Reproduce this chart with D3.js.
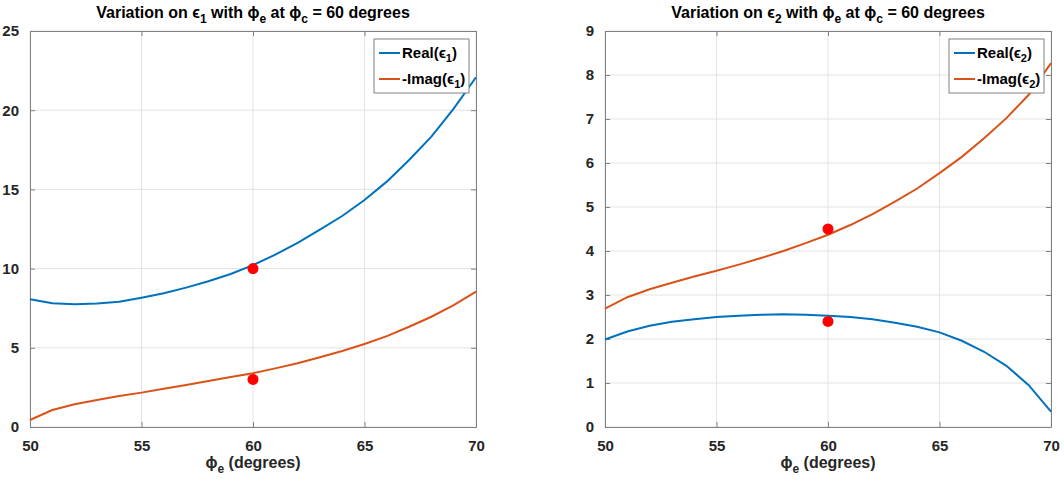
<!DOCTYPE html>
<html>
<head>
<meta charset="utf-8">
<script src="https://cdn.jsdelivr.net/npm/d3@7"></script>
<style>
  body { margin: 0; background: #fff; }
  svg { font-family: 'Liberation Sans', Arial, sans-serif; font-weight: bold; }
  .tick text { fill: #262626; }
</style>
</head>
<body>
<svg id="chart" width="1064" height="482"></svg>
<script>
// phi_e values (degrees)
var phiE = [50, 51, 52, 53, 54, 55, 56, 57, 58, 59, 60, 61, 62, 63, 64, 65, 66, 67, 68, 69, 70]

// epsilon 1
var realEps1 = [8.06, 7.81, 7.75, 7.79, 7.91, 8.16, 8.44, 8.80, 9.20, 9.66, 10.22, 10.88, 11.62, 12.46, 13.32, 14.33, 15.49, 16.86, 18.33, 20.10, 22.08]
var imagEps1 = [0.44, 1.07, 1.43, 1.70, 1.96, 2.17, 2.42, 2.65, 2.90, 3.16, 3.40, 3.70, 4.02, 4.40, 4.80, 5.24, 5.74, 6.33, 6.96, 7.70, 8.54]
var refEps1 = [[60, 10], [60, 3]]

// epsilon 2
var realEps2 = [1.99, 2.17, 2.30, 2.39, 2.45, 2.50, 2.53, 2.55, 2.56, 2.55, 2.53, 2.50, 2.45, 2.37, 2.28, 2.15, 1.96, 1.71, 1.39, 0.95, 0.35]
var imagEps2 = [2.69, 2.95, 3.13, 3.28, 3.42, 3.55, 3.69, 3.84, 4.00, 4.18, 4.37, 4.59, 4.84, 5.12, 5.42, 5.77, 6.14, 6.56, 7.02, 7.55, 8.27]
var refEps2 = [[60, 4.5], [60, 2.4]]

var xTicks = [50, 55, 60, 65, 70]
var yTicks1 = [0, 5, 10, 15, 20, 25]
var yTicks2 = [0, 1, 2, 3, 4, 5, 6, 7, 8, 9]

var blue = '#0072BD', orange = '#D95319'
var svg = d3.select('#chart')

function drawPanel (p) {
    var x = d3.scaleLinear().domain([50, 70]).range([p.left, p.right])
    var y = d3.scaleLinear().domain(p.yDomain).range([p.bottom, p.top])
    var g = svg.append('g')

    // grid
    g.append('g').selectAll('line').data(xTicks).enter().append('line')
        .attr('x1', d => x(d)).attr('x2', d => x(d))
        .attr('y1', p.top).attr('y2', p.bottom)
        .attr('stroke', '#e3e3e3').attr('stroke-width', 1)
    g.append('g').selectAll('line').data(p.yTicks).enter().append('line')
        .attr('y1', d => y(d)).attr('y2', d => y(d))
        .attr('x1', p.left).attr('x2', p.right)
        .attr('stroke', '#e3e3e3').attr('stroke-width', 1)

    // axes (ticks inside, box on)
    var axB = g.append('g').attr('transform', `translate(0, ${p.bottom})`)
        .call(d3.axisBottom(x).tickValues(xTicks).tickSizeInner(-5).tickSizeOuter(0).tickPadding(13))
    var axT = g.append('g').attr('transform', `translate(0, ${p.top})`)
        .call(d3.axisTop(x).tickValues(xTicks).tickSizeInner(-5).tickSizeOuter(0).tickFormat(''))
    var axL = g.append('g').attr('transform', `translate(${p.left}, 0)`)
        .call(d3.axisLeft(y).tickValues(p.yTicks).tickSizeInner(-5).tickSizeOuter(0).tickPadding(11))
    var axR = g.append('g').attr('transform', `translate(${p.right}, 0)`)
        .call(d3.axisRight(y).tickValues(p.yTicks).tickSizeInner(-5).tickSizeOuter(0).tickFormat(''))
    ;[axB, axT, axL, axR].forEach(a => {
        a.select('.domain').attr('stroke', '#808080')
        a.selectAll('.tick line').attr('stroke', '#808080')
        a.selectAll('.tick text').attr('font-size', 15).attr('font-weight', 'bold')
            .attr('font-family', "'Liberation Sans', Arial, sans-serif")
    })

    // curves
    var line = d3.line().x((d, i) => x(phiE[i])).y(d => y(d))
    g.append('path').datum(p.real).attr('d', line)
        .attr('fill', 'none').attr('stroke', blue).attr('stroke-width', 2)
    g.append('path').datum(p.imag).attr('d', line)
        .attr('fill', 'none').attr('stroke', orange).attr('stroke-width', 2)

    // reference points
    g.selectAll('circle.ref').data(p.refs).enter().append('circle')
        .attr('cx', d => x(d[0])).attr('cy', d => y(d[1])).attr('r', 5.5)
        .attr('fill', '#ff0000')

    // title
    var cx = (p.left + p.right) / 2
    var t = g.append('text').attr('x', cx).attr('y', 18)
        .attr('text-anchor', 'middle').attr('font-size', 16).attr('fill', '#000')
    t.append('tspan').text('Variation on ϵ')
    t.append('tspan').attr('dy', 5).attr('font-size', 12).text(p.sub)
    t.append('tspan').attr('dy', -5).text(' with ϕ')
    t.append('tspan').attr('dy', 5).attr('font-size', 12).text('e')
    t.append('tspan').attr('dy', -5).text(' at ϕ')
    t.append('tspan').attr('dy', 5).attr('font-size', 12).text('c')
    t.append('tspan').attr('dy', -5).text(' = 60 degrees')

    // x label
    var xl = g.append('text').attr('x', cx).attr('y', 468)
        .attr('text-anchor', 'middle').attr('font-size', 16).attr('fill', '#262626')
    xl.append('tspan').text('ϕ')
    xl.append('tspan').attr('dy', 5).attr('font-size', 12).text('e')
    xl.append('tspan').attr('dy', -5).text(' (degrees)')

    // legend
    var lx = p.right - 102, ly = 39, lw = 95, lh = 54
    var lg = g.append('g')
    lg.append('rect').attr('x', lx).attr('y', ly).attr('width', lw).attr('height', lh)
        .attr('fill', '#fff').attr('stroke', '#808080').attr('stroke-width', 1)
    var entries = [{ name: 'Real(', color: blue }, { name: '-Imag(', color: orange }]
    entries.forEach((e, i) => {
        var yy = ly + 14 + i * 26
        lg.append('line').attr('x1', lx + 5).attr('x2', lx + 26)
            .attr('y1', yy).attr('y2', yy).attr('stroke', e.color).attr('stroke-width', 2)
        var tx = lg.append('text').attr('x', lx + 28).attr('y', yy + 5)
            .attr('font-size', 15).attr('fill', '#000')
        tx.append('tspan').text(e.name + 'ϵ')
        tx.append('tspan').attr('dy', 4).attr('font-size', 11).text(p.sub)
        tx.append('tspan').attr('dy', -4).text(')')
    })
}

drawPanel({ left: 30, right: 476, top: 31, bottom: 427, yDomain: [0, 25], yTicks: yTicks1,
    real: realEps1, imag: imagEps1, refs: refEps1, sub: '1' })
drawPanel({ left: 605, right: 1051, top: 31, bottom: 427, yDomain: [0, 9], yTicks: yTicks2,
    real: realEps2, imag: imagEps2, refs: refEps2, sub: '2' })
</script>
</body>
</html>
